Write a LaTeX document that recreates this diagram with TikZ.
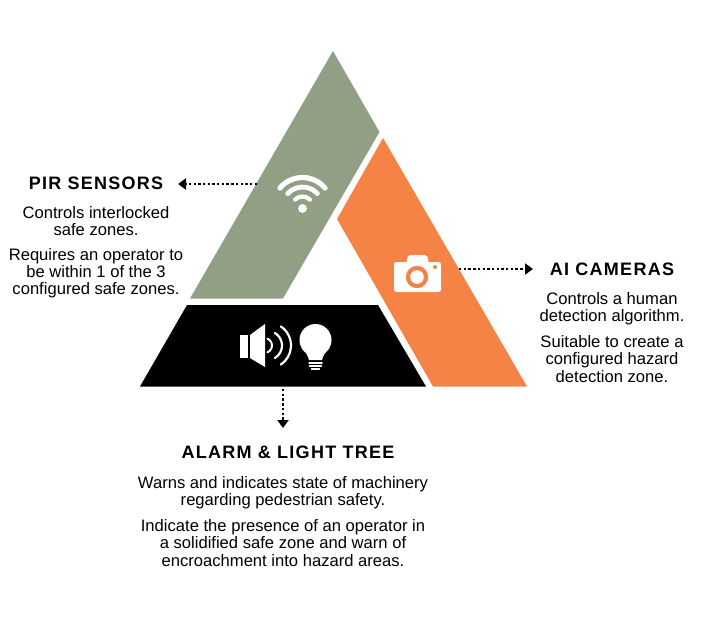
\documentclass[tikz,border=0pt]{standalone}
\usepackage{fontspec}
\setmainfont{Liberation Sans}
\newfontfamily\titlefont[LetterSpace=7.0]{Liberation Sans}
\usepackage{xcolor}
\usetikzlibrary{arrows.meta}
\definecolor{sagegreen}{HTML}{919F85}
\definecolor{camorange}{HTML}{F58345}
\tikzset{
	headline/.style={inner sep=0pt,font=\titlefont\fontsize{18}{18}\selectfont\bfseries},
	bodytext/.style={inner sep=0pt,align=center,font=\fontsize{16.6}{17.2}\selectfont},
	dotline/.style={line width=2.4pt,dash pattern=on 2.4pt off 2.3pt,-{Triangle[length=8pt,width=11pt]}},
	iconline/.style={white,line cap=round},
}
\begin{document}
\begin{tikzpicture}[x=1pt,y=-1pt]
	\useasboundingbox (0,0) rectangle (704,640);

	% the three bands
	\fill[sagegreen] (333,51)--(379.5,132)--(283,298.5)--(190,298.5)--cycle;
	\fill[camorange] (383,138)--(527,386.5)--(433,386.5)--(337,219)--cycle;
	\fill[black] (187,305)--(378,305)--(426,386.5)--(140,386.5)--cycle;

	% wifi
	\fill[white] (302.5,208.5) circle (4.4);
	\draw[iconline,line width=5.2pt] (302.5,207)++(-140:29.5) arc (-140:-40:29.5);
	\draw[iconline,line width=4.8pt] (302.5,207)++(-138:20) arc (-138:-42:20);
	\draw[iconline,line width=4.2pt] (302.5,207)++(-135:10.5) arc (-135:-45:10.5);

	% speaker
	\fill[white] (240,335) rectangle (248,358);
	\fill[white] (250,335)--(265,324)--(265,367)--(250,358)--cycle;
	\draw[iconline,line width=2pt] (264.6,345.5)++(-68:7.4) arc (-68:68:7.4);
	\draw[iconline,line width=2.2pt] (267.4,345.5)++(-59:14.6) arc (-59:59:14.6);
	\draw[iconline,line width=2.2pt] (268,345.5)++(-56:23) arc (-56:56:23);

	% bulb
	\fill[white] (315.5,340) circle (16);
	\fill[white] (301.5,348)..controls (306,352) and (308,356)..(309,360)--(322,360)..controls (323,356) and (325,352)..(329.5,348)--cycle;
	\foreach \y/\w in {363/6.5,366/6,369/4}
		\draw[iconline,line width=1.4pt] (315.5-\w,\y)--(315.5+\w,\y);

	% camera
	\fill[white,rounded corners=2.5pt] (394,262) rectangle (441,292);
	\fill[white,rounded corners=2pt] (406,264)--(408,255)--(427,255)--(429,264)--cycle;
	\fill[camorange] (417,277) circle (11.2);
	\fill[white] (417,277) circle (6.8);
	\fill[camorange] (435,267) circle (2);

	% labels
	\node[headline] (pir) at (96,183) {PIR SENSORS};
	\node[bodytext] (pirone) at (96,221) {Controls interlocked\\safe zones.};
	\node[bodytext] (pirtwo) at (96,273) {Requires an operator to\\be within 1 of the 3\\configured safe zones.};

	\node[headline] (cam) at (612,269) {AI CAMERAS};
	\node[bodytext] (camone) at (612,308.5) {Controls a human\\detection algorithm.};
	\node[bodytext] (camtwo) at (612,359) {Suitable to create a\\configured hazard\\detection zone.};

	\node[headline] (alarm) at (288,452) {ALARM \& LIGHT TREE};
	\node[bodytext] (alarmone) at (283,493) {Warns and indicates state of machinery\\regarding pedestrian safety.};
	\node[bodytext] (alarmtwo) at (283,543) {Indicate the presence of an operator in\\a solidified safe zone and warn of\\encroachment into hazard areas.};

	% arrows
	\coordinate (wifiout) at (257,184);
	\coordinate (pirtip) at (178,184);
	\coordinate (camout) at (459,269);
	\coordinate (camtip) at (533,269);
	\coordinate (alarmout) at (283,389);
	\coordinate (alarmtip) at (283,428);
	\draw[dotline] (wifiout)--(pirtip);
	\draw[dotline] (camout)--(camtip);
	\draw[dotline] (alarmout)--(alarmtip);
\end{tikzpicture}
\end{document}
